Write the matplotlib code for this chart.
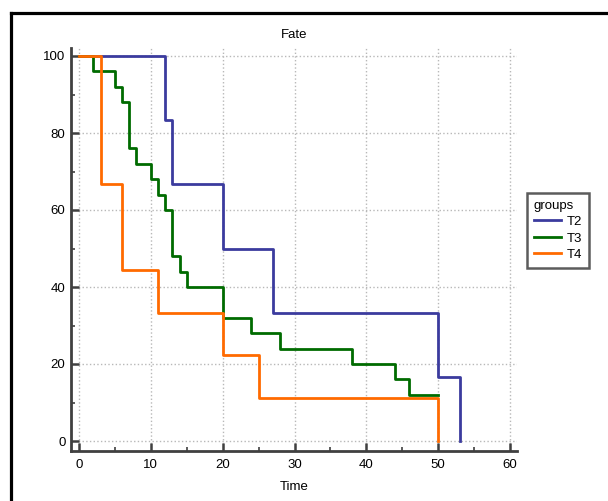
import matplotlib.pyplot as plt
from matplotlib.lines import Line2D
from matplotlib.ticker import MultipleLocator

plt.rcParams['font.family'] = ['Liberation Sans', 'DejaVu Sans']
plt.rcParams['font.size'] = 9

# survival curves (percent) per group
t2_time = [0, 12, 13, 20, 27, 50, 53]
t2_surv = [100, 83.33, 66.67, 50, 33.33, 16.67, 0]

t3_time = [0, 2, 5, 6, 7, 8, 10, 11, 12, 13, 14, 15, 20, 24, 28, 38, 44, 46, 50]
t3_surv = [100, 96, 92, 88, 76, 72, 68, 64, 60, 48, 44, 40, 32, 28, 24, 20, 16, 12, 12]

t4_time = [0, 3, 6, 11, 20, 25, 50]
t4_surv = [100, 66.67, 44.44, 33.33, 22.22, 11.11, 0]

groups = ["T2", "T3", "T4"]
colors = ["#3b3b9e", "#006b00", "#ff6a00"]

W, H = 608, 501
fig = plt.figure(figsize=(W / 100, H / 100), dpi=100)

# axes box in pixels: left spine x=71, bottom spine y=451, right 517, top 48
left, right, top, bottom = 71, 517, 48, 451
ax = fig.add_axes([left / W, 1 - bottom / H, (right - left) / W, (bottom - top) / H])

px_x = 431 / 60.0
px_y = 385 / 100.0
ax.set_xlim(-(79 - left) / px_x, (right - 79) / px_x)
ax.set_ylim(-(bottom - 441) / px_y, (441 - top) / px_y)

for tm, sv, c, g in zip([t2_time, t3_time, t4_time], [t2_surv, t3_surv, t4_surv], colors, groups):
    ax.step(tm, sv, where='post', color=c, lw=2.0, label=g, zorder=3)

ax.xaxis.set_major_locator(MultipleLocator(10))
ax.xaxis.set_minor_locator(MultipleLocator(5))
ax.yaxis.set_major_locator(MultipleLocator(20))
ax.yaxis.set_minor_locator(MultipleLocator(10))
ax.grid(which='major', color='#b8b8b8', linestyle=':', lw=1.0)

for s in ['top', 'right']:
    ax.spines[s].set_visible(False)
for s in ['left', 'bottom']:
    ax.spines[s].set_color('#404040')
    ax.spines[s].set_linewidth(2.0)

ax.tick_params(which='major', direction='in', length=5.5, width=1.8, color='#404040', pad=4,
               labelsize=9.5)
ax.tick_params(axis='x', which='major', pad=6)
ax.tick_params(which='minor', direction='in', length=3, width=1.2, color='#404040')

ax.set_title("Fate", fontsize=9.5, pad=7)
ax.set_xlabel("Time", labelpad=7, fontsize=9.5)

leg = ax.legend(title="groups", loc='upper left', bbox_to_anchor=(527 / W, 1 - 193 / H),
                bbox_transform=fig.transFigure, frameon=True, fancybox=False,
                handlelength=2.1, handletextpad=0.4, borderpad=0.5, labelspacing=0.32,
                borderaxespad=0, fontsize=9.5, title_fontsize=9.5)
leg._legend_box.align = 'left'
leg.get_frame().set_edgecolor('#333333')
leg.get_frame().set_linewidth(1.8)

# outer frame of the panel
fx = 11 / W
fy = 1 - 13 / H
fig.add_artist(Line2D([fx, fx], [-0.1, fy], transform=fig.transFigure, color='black', lw=2.3))
fig.add_artist(Line2D([fx, 1.1], [fy, fy], transform=fig.transFigure, color='black', lw=2.3))

fig.savefig("out.png", dpi=100)
